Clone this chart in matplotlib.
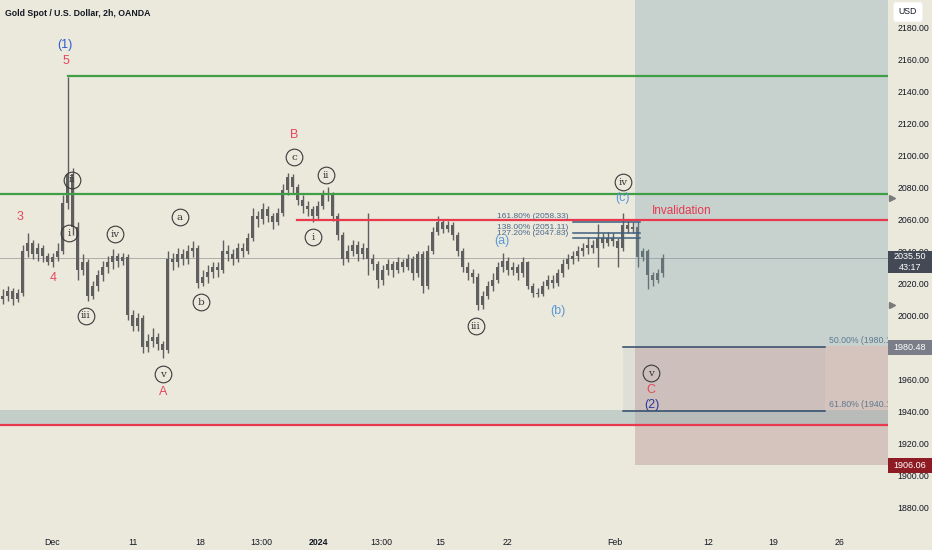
import matplotlib
matplotlib.use('Agg')
import matplotlib.pyplot as plt
from matplotlib.patches import Rectangle

plt.rcParams['font.family'] = ['Liberation Sans', 'DejaVu Sans']

# 2h candles, one entry per ~5 px column
opens = [2010, 2012, 2015, 2010, 2014, 2040, 2045, 2038, 2042, 2037,
         2033, 2036, 2040, 2070, 2088, 2055, 2028, 2033, 2012, 2018,
         2025, 2030, 2033, 2037, 2034, 2036, 2000, 1993, 1998, 1980,
         1984, 1986, 1982, 1978, 2035, 2033, 2038, 2035, 2040, 2042,
         2020, 2024, 2027, 2030, 2028, 2040, 2038, 2035, 2042, 2040,
         2048, 2062, 2060, 2066, 2062, 2058, 2064, 2078, 2086, 2080,
         2072, 2068, 2066, 2062, 2068, 2076, 2075, 2062, 2050, 2035,
         2040, 2044, 2038, 2042, 2035, 2032, 2022, 2028, 2032, 2028,
         2033, 2030, 2035, 2026, 2038, 2018, 2040, 2052, 2058, 2054,
         2056, 2050, 2040, 2030, 2026, 2024, 2006, 2012, 2018, 2022,
         2030, 2034, 2028, 2030, 2026, 2033, 2018, 2014, 2013, 2018,
         2022, 2020, 2026, 2032, 2035, 2037, 2040, 2042, 2044, 2042,
         2048, 2045, 2048, 2046, 2042, 2056, 2054, 2055, 2036, 2040,
         2025, 2022, 2026]
highs = [2016, 2018, 2017, 2016, 2044, 2051, 2047, 2045, 2044, 2039,
         2039, 2045, 2075, 2149, 2092, 2058, 2038, 2035, 2021, 2028,
         2034, 2037, 2041, 2039, 2039, 2038, 2003, 2001, 2000, 1988,
         1992, 1989, 1984, 2040, 2039, 2042, 2041, 2044, 2046, 2044,
         2028, 2031, 2033, 2033, 2047, 2044, 2041, 2045, 2045, 2051,
         2067, 2065, 2070, 2068, 2064, 2067, 2082, 2089, 2088, 2082,
         2075, 2071, 2068, 2071, 2078, 2080, 2077, 2064, 2052, 2044,
         2047, 2046, 2045, 2064, 2038, 2034, 2031, 2035, 2034, 2036,
         2035, 2038, 2037, 2040, 2040, 2044, 2055, 2062, 2060, 2059,
         2058, 2052, 2042, 2033, 2029, 2026, 2015, 2021, 2026, 2033,
         2039, 2036, 2033, 2032, 2036, 2034, 2020, 2017, 2021, 2025,
         2025, 2029, 2035, 2038, 2040, 2043, 2045, 2049, 2047, 2057,
         2051, 2052, 2051, 2048, 2064, 2059, 2058, 2058, 2042, 2041,
         2027, 2029, 2038]
lows = [2007, 2009, 2006, 2008, 2012, 2036, 2035, 2034, 2033, 2031,
        2030, 2034, 2038, 2066, 2050, 2022, 2025, 2009, 2010, 2015,
        2021, 2026, 2029, 2030, 2031, 1997, 1990, 1990, 1976, 1977,
        1980, 1978, 1973, 1976, 2028, 2030, 2031, 2032, 2036, 2017,
        2018, 2020, 2023, 2024, 2026, 2034, 2031, 2033, 2036, 2038,
        2046, 2055, 2057, 2058, 2054, 2056, 2062, 2075, 2076, 2069,
        2064, 2062, 2058, 2060, 2066, 2071, 2059, 2047, 2031, 2033,
        2037, 2034, 2035, 2025, 2028, 2017, 2019, 2025, 2024, 2026,
        2027, 2028, 2022, 2024, 2014, 2016, 2038, 2050, 2051, 2052,
        2047, 2037, 2027, 2022, 2020, 2003, 2004, 2010, 2015, 2020,
        2027, 2025, 2025, 2022, 2024, 2016, 2011, 2011, 2012, 2016,
        2017, 2018, 2024, 2029, 2032, 2034, 2037, 2038, 2039, 2030,
        2042, 2043, 2043, 2030, 2040, 2051, 2051, 2030, 2034, 2016,
        2018, 2020, 2024]
closes = [2012, 2015, 2010, 2014, 2040, 2045, 2038, 2042, 2037, 2033,
          2036, 2040, 2070, 2088, 2055, 2028, 2033, 2012, 2018, 2025,
          2030, 2033, 2037, 2034, 2036, 2000, 1993, 1998, 1980, 1984,
          1986, 1982, 1978, 2035, 2033, 2038, 2035, 2040, 2042, 2020,
          2024, 2027, 2030, 2028, 2040, 2038, 2035, 2042, 2040, 2048,
          2062, 2060, 2066, 2062, 2058, 2064, 2078, 2086, 2080, 2072,
          2068, 2066, 2062, 2068, 2076, 2075, 2062, 2050, 2035, 2040,
          2044, 2038, 2042, 2035, 2032, 2022, 2028, 2032, 2028, 2033,
          2030, 2035, 2026, 2038, 2018, 2040, 2052, 2058, 2054, 2056,
          2050, 2040, 2030, 2026, 2024, 2006, 2012, 2018, 2022, 2030,
          2034, 2028, 2030, 2026, 2033, 2018, 2014, 2013, 2018, 2022,
          2020, 2026, 2032, 2035, 2037, 2040, 2042, 2044, 2042, 2048,
          2045, 2048, 2046, 2042, 2056, 2054, 2055, 2036, 2040, 2025,
          2022, 2026, 2035.5]

tick_pos = [9.9, 26.1, 39.5, 51.7, 63.1, 75.7, 87.5, 100.9, 122.5, 141.1, 154.1, 167.5]
tick_labels = ['Dec', '11', '18', '13:00', '2024', '13:00', '15', '22', 'Feb', '12', '19', '26']
price_ticks = list(range(1880, 2181, 20))

# drawn levels
green_top = 2149.4
green_mid = 2075.6
invalidation = 2059.4
red_low = 1931.3
band_low, band_high = 1931.3, 1940.6
last_price = 2035.5
countdown = '43:17'
entry = 1980.48
stop = 1906.06
alert_marks = [2073.0, 2006.0]

fib_ext_levels = [2058.33, 2051.11, 2047.83]
fib_ext_labels = ['161.80% (2058.33)', '138.00% (2051.11)', '127.20% (2047.83)']
fib_ret_levels = [1980.15, 1940.17]
fib_ret_labels = ['50.00% (1980.15)', '61.80% (1940.17)']

# bar index where drawings start / end
spike_bar = 13
inval_start = 58.9
ext_start, ext_end = 114.1, 127.5
ret_start, ret_end = 124.1, 164.5
box_start = 126.5

RED = '#e5475f'
BLUE = '#2f5bd3'
LBLUE = '#5b9ad8'
NAVY = '#2b3a9e'

plain_labels = [
    (12.5, 2168.75, '(1)', BLUE), (12.7, 2158.75, '5', RED),
    (3.5, 2061.25, '3', RED), (10.1, 2023.1, '4', RED),
    (32.1, 1951.9, 'A', RED), (58.3, 2112.5, 'B', RED),
    (99.9, 2046.25, '(a)', LBLUE), (111.1, 2002.5, '(b)', LBLUE),
    (123.9, 2073.1, '(c)', LBLUE),
    (129.7, 1953.1, 'C', RED), (129.9, 1943.75, '(2)', NAVY),
]
circled_labels = [
    (13.9, 2084.4, 'ii'), (13.3, 2051.25, 'i'), (16.7, 1999.4, 'iii'),
    (22.5, 2050.6, 'iv'), (32.1, 1963.1, 'v'),
    (35.5, 2061.25, 'a'), (39.7, 2008.1, 'b'), (58.3, 2098.75, 'c'),
    (62.1, 2048.75, 'i'), (64.7, 2087.5, 'ii'), (94.7, 1993.1, 'iii'),
    (124.1, 2083.1, 'iv'), (129.7, 1963.75, 'v'),
]

BG = '#ebe8dc'
fig = plt.figure(figsize=(9.32, 5.5), dpi=100, facecolor=BG)
ax = fig.add_axes([0, 23 / 550, 888 / 932, 527 / 550], facecolor=BG)
x0, x1 = -0.5, 177.1
ax.set_xlim(x0, x1)
ax.set_ylim(1867.5, 2196.9)

# position tool (target / stop zones)
ax.fill_between([box_start, x1], entry, 2196.9, color='#76a2b1', alpha=0.3, lw=0, zorder=3)
ax.fill_between([box_start, x1], stop, entry, color='#a57078', alpha=0.3, lw=0, zorder=3)

# support band and lines
ax.fill_between([x0, x1], band_low, band_high, color='#9fb5b5', alpha=0.5, lw=0, zorder=3)
ax.axhline(red_low, color='#e8394d', lw=1.6, zorder=4)
ax.axhline(green_mid, color='#3f9e46', lw=1.6, zorder=4)
ax.plot([spike_bar, x1], [green_top, green_top], color='#3f9e46', lw=1.6, zorder=4)
ax.plot([inval_start, x1], [invalidation, invalidation], color='#e8394d', lw=1.6, zorder=4)
ax.axhline(last_price, color='#a3a3a3', lw=0.6, zorder=1)

# candles
xs = range(len(closes))
ax.vlines(xs, lows, highs, color='#5f5f5f', lw=1.0, zorder=2)
bottoms = [min(o, c) for o, c in zip(opens, closes)]
heights = [max(abs(c - o), 0.6) for o, c in zip(opens, closes)]
ax.bar(xs, heights, bottom=bottoms, width=0.7, color='#5f5f5f', lw=0, zorder=2)

# fib extension
for lvl, lab in zip(fib_ext_levels, fib_ext_labels):
    ax.plot([ext_start, ext_end], [lvl, lvl], color='#3d5f7f', lw=1.1, zorder=5)
    ax.text(ext_start - 1, lvl + 1.2, lab, ha='right', va='bottom', fontsize=6,
            color='#4a6a8a', zorder=6)

# fib retracement
ax.fill_between([ret_start, ret_end], fib_ret_levels[1], fib_ret_levels[0],
                color='#9aa6b0', alpha=0.13, lw=0, zorder=3)
for lvl, lab in zip(fib_ret_levels, fib_ret_labels):
    ax.plot([ret_start, ret_end], [lvl, lvl], color='#2e4a6b', lw=1.1, zorder=5)
    ax.text(ret_end + 0.8, lvl + 1.2, lab, ha='left', va='bottom', fontsize=6.3,
            color='#5d7a90', zorder=6, clip_on=True)

ax.text(129.9, 2065, 'Invalidation', color='#e53950', fontsize=8.5, ha='left',
        va='center', zorder=6)

for b, p, t, c in plain_labels:
    ax.text(b, p, t, ha='center', va='center', fontsize=9, color=c, zorder=7)
for b, p, t in circled_labels:
    ax.plot(b, p, marker='o', ms=12, mfc='none', mec='#3a3a3a', mew=0.8, zorder=7)
    ax.text(b, p, t, ha='center', va='center', fontsize=7.5, color='#3a3a3a',
            family='DejaVu Serif', zorder=8)

# axes styling
for s in ax.spines.values():
    s.set_visible(False)
ax.yaxis.tick_right()
ax.set_yticks(price_ticks)
ax.set_yticklabels(['%.2f' % v for v in price_ticks])
ax.set_xticks(tick_pos)
ax.set_xticklabels(tick_labels)
ax.tick_params(axis='y', length=0, pad=7, labelsize=6.3, labelcolor='#131722')
ax.tick_params(axis='x', length=0, pad=8, labelsize=6.3, labelcolor='#131722')
ax.get_xticklabels()[4].set_fontweight('bold')

# price axis tags
ytr = ax.get_yaxis_transform()
tag_w = 44 / 888


def tag(center, half, text, fc):
    ax.add_patch(Rectangle((1.0, center - half), tag_w, 2 * half, transform=ytr,
                           fc=fc, ec='none', clip_on=False, zorder=9))
    ax.text(1.0 + tag_w / 2, center, text, transform=ytr, ha='center', va='center',
            fontsize=6.5, color='white', linespacing=1.2, clip_on=False, zorder=10)


tag(last_price - 2.3, 6.9, '%.2f\n%s' % (last_price, countdown), '#434955')
tag(entry - 0.6, 4.7, '%.2f' % entry, '#7b7e88')
tag(stop, 4.7, '%.2f' % stop, '#8e1b24')
ax.plot([1.004] * len(alert_marks), alert_marks, transform=ytr, marker='>', ls='none',
        ms=5, color='#7a7a7a', clip_on=False, zorder=10)

fig.text(908 / 932, 1 - 12 / 550, 'USD', ha='center', va='center', fontsize=6.3,
         color='#131722', bbox=dict(boxstyle='round,pad=0.6,rounding_size=0.3',
                                    fc='white', ec='none'), zorder=10)
fig.text(5 / 932, 1 - 13 / 550, 'Gold Spot / U.S. Dollar, 2h, OANDA', ha='left',
         va='center', fontsize=6.3, fontweight='bold', color='#131722')

fig.savefig('out.png', dpi=100, facecolor=BG)
